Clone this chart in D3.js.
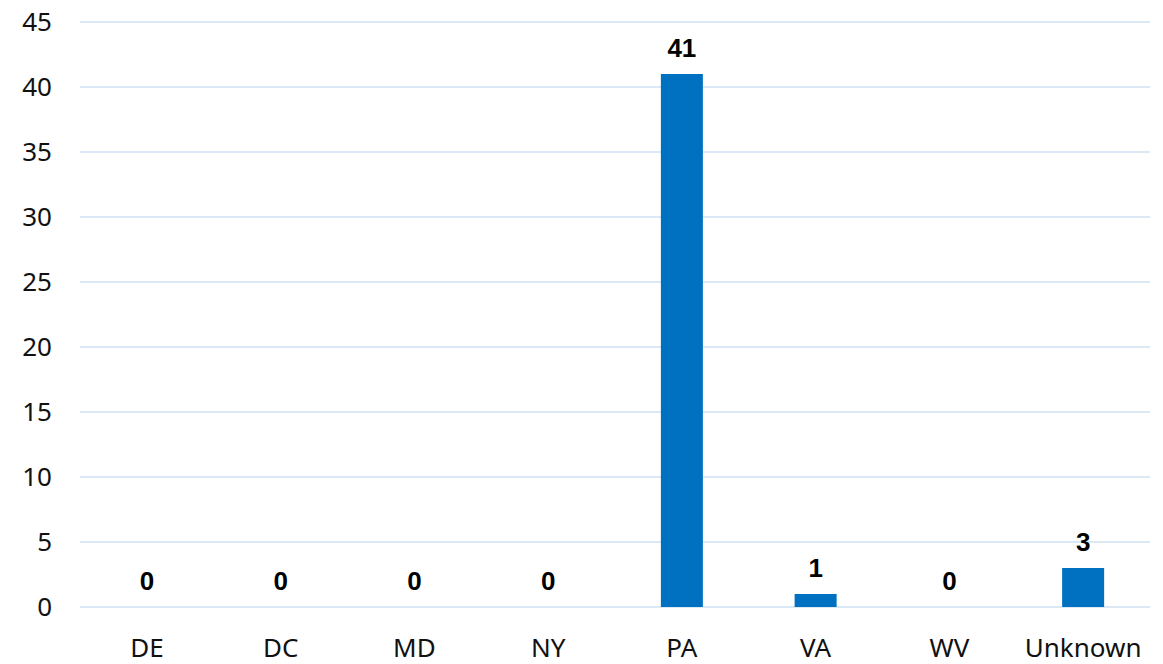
<!DOCTYPE html>
<html>
<head>
<meta charset="utf-8">
<script src="https://cdn.jsdelivr.net/npm/d3@7"></script>
<style>
  body { margin: 0; background: #fff; }
</style>
</head>
<body>
<div class="plot"></div>
<script>
// chart data
const states = ["DE", "DC", "MD", "NY", "PA", "VA", "WV", "Unknown"];
const counts = [0, 0, 0, 0, 41, 1, 0, 3];
const yTicks = [0, 5, 10, 15, 20, 25, 30, 35, 40, 45];

const width = 1163;
const height = 664;
const margin = {top: 22, left: 80, right: 13, bottom: 57};

const svg = d3.select('.plot')
  .append('svg')
  .attr('width', width)
  .attr('height', height);

const xScale = d3.scaleBand()
  .domain(states)
  .range([margin.left, width - margin.right])
  .paddingInner(0.686)
  .paddingOuter(0.343);

const yScale = d3.scaleLinear()
  .domain([0, 45])
  .range([height - margin.bottom, margin.top]);

// gridlines
svg.append('g')
  .selectAll('line')
  .data(yTicks)
  .enter()
  .append('line')
  .attr('x1', margin.left)
  .attr('x2', width - margin.right)
  .attr('y1', d => yScale(d))
  .attr('y2', d => yScale(d))
  .attr('stroke', '#cfe0f2')
  .attr('stroke-width', 1.5);

// y axis labels
const yAxis = svg.append('g')
  .attr('transform', `translate(${margin.left - 28},0)`)
  .call(d3.axisLeft(yScale).tickValues(yTicks).tickSize(0).tickPadding(0));
yAxis.select('.domain').remove();
yAxis.selectAll('text')
  .attr('font-family', 'Noto Sans, Open Sans, sans-serif')
  .attr('font-size', 26)
  .attr('fill', '#111');

// x axis labels
const xAxis = svg.append('g')
  .attr('transform', `translate(0,${height - margin.bottom})`)
  .call(d3.axisBottom(xScale).tickSize(0).tickPadding(32));
xAxis.select('.domain').remove();
xAxis.selectAll('text')
  .attr('font-family', 'Noto Sans, Open Sans, sans-serif')
  .attr('font-size', 26)
  .attr('fill', '#111');

// bars
svg.append('g')
  .selectAll('rect')
  .data(states)
  .enter()
  .append('rect')
  .attr('x', d => xScale(d))
  .attr('y', (d, i) => yScale(counts[i]))
  .attr('width', xScale.bandwidth())
  .attr('height', (d, i) => yScale(0) - yScale(counts[i]))
  .attr('fill', '#0070c0');

// value labels
svg.append('g')
  .selectAll('text')
  .data(states)
  .enter()
  .append('text')
  .attr('x', d => xScale(d) + xScale.bandwidth() / 2)
  .attr('y', (d, i) => yScale(counts[i]) - 17)
  .attr('text-anchor', 'middle')
  .attr('font-family', 'Liberation Sans, Arial, sans-serif')
  .attr('font-weight', 'bold')
  .attr('font-size', 26)
  .attr('fill', '#000')
  .text((d, i) => counts[i]);
</script>
</body>
</html>
